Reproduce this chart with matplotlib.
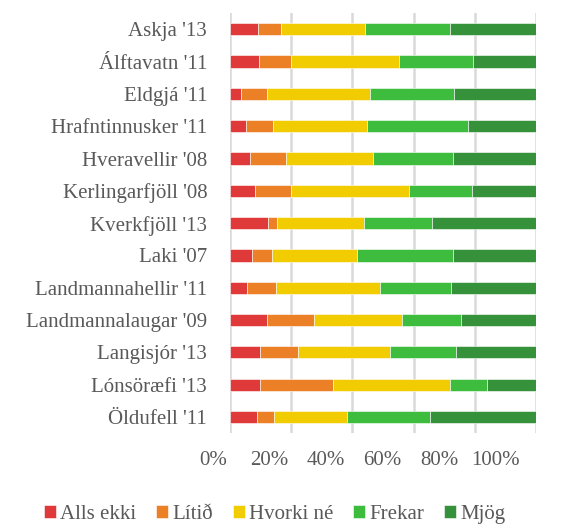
import matplotlib.pyplot as plt
from matplotlib.transforms import ScaledTranslation
import numpy as np

places = ["Askja '13", "Álftavatn '11", "Eldgjá '11", "Hrafntinnusker '11",
          "Hveravellir '08", "Kerlingarfjöll '08", "Kverkfjöll '13", "Laki '07",
          "Landmannahellir '11", "Landmannalaugar '09", "Langisjór '13",
          "Lónsöræfi '13", "Öldufell '11"]

alls_ekki = [9.2, 9.5, 3.4, 5.2, 6.6, 8.0, 12.5, 7.3, 5.6, 12.2, 9.8, 9.8, 8.9]
litid = [7.4, 10.4, 8.8, 8.9, 11.7, 12.0, 2.9, 6.5, 9.5, 15.4, 12.3, 24.0, 5.6]
hvorki = [27.6, 35.3, 33.4, 30.6, 28.6, 38.5, 28.5, 27.7, 33.8, 28.5, 30.2, 38.2, 23.6]
frekar = [27.6, 24.1, 27.5, 33.2, 25.9, 20.5, 22.0, 31.3, 23.2, 19.3, 21.6, 12.0, 27.4]
mjog = [28.2, 20.7, 26.9, 22.1, 27.2, 21.0, 34.1, 27.2, 27.9, 24.6, 26.1, 16.0, 34.5]

series = ["Alls ekki", "Lítið", "Hvorki né", "Frekar", "Mjög"]
colors = ["#E0393A", "#EC8026", "#F0CC00", "#3EBC3E", "#36923A"]
ticks = [0, 20, 40, 60, 80, 100]

fonts = ['Liberation Serif', 'DejaVu Serif']
plt.rcParams['font.family'] = fonts
txt = '#595959'

fig = plt.figure(figsize=(5.64, 5.25), dpi=100)
ax = fig.add_axes([0.408, 0.175, 0.542, 0.80])

y = np.arange(len(places))
left = np.zeros(len(places))
for name, vals, c in zip(series, [alls_ekki, litid, hvorki, frekar, mjog], colors):
    vals = np.array(vals)
    ax.barh(y, vals, left=left, height=0.38, color=c, label=name,
            edgecolor='white', linewidth=0.4, zorder=3)
    left += vals

ax.set_xlim(0, 100)
ax.set_ylim(len(places) - 0.5, -0.5)
ax.set_yticks(y)
ax.set_yticklabels(places, family=fonts)
ax.set_xticks(ticks)
ax.set_xticklabels([f'{t}%' for t in ticks], family=fonts)
ax.tick_params(axis='y', length=0, pad=16.5, labelsize=15, labelcolor=txt)
ax.tick_params(axis='x', length=0, pad=13, labelsize=15, labelcolor=txt)
ax.grid(axis='x', color='#D9D9D9', linewidth=1.8, zorder=0)
for s in ax.spines.values():
    s.set_visible(False)

# the original's percent labels drift left of their gridlines
for i, lab in enumerate(ax.get_xticklabels()):
    lab.set_transform(lab.get_transform() +
                      ScaledTranslation(-(0.17 + 0.046 * i), 0, fig.dpi_scale_trans))

fig.legend(loc='center', bbox_to_anchor=(0.487, 0.020), ncol=5, frameon=False,
           handlelength=0.58, handleheight=0.58, handletextpad=0.2,
           columnspacing=0.95, prop={'family': fonts, 'size': 15}, labelcolor=txt)

fig.savefig('out.png', dpi=100)
